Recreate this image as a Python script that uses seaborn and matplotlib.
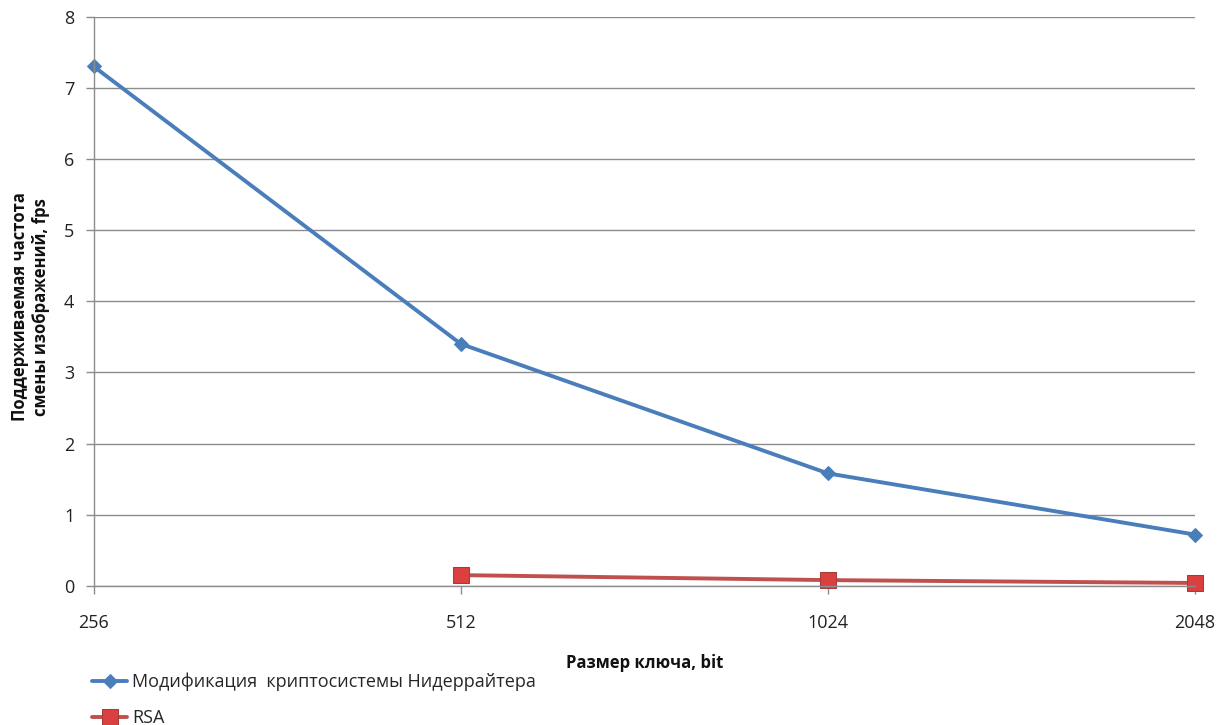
import numpy as np
import pandas as pd
import matplotlib
matplotlib.use("Agg")
import matplotlib.pyplot as plt
import seaborn as sns

key_sizes = ["256", "512", "1024", "2048"]
niederreiter_fps = [7.3, 3.4, 1.58, 0.72]
rsa_fps = [np.nan, 0.15, 0.08, 0.04]
series_names = ["Модификация  криптосистемы Нидеррайтера", "RSA"]

sns.set_theme(style="white")
plt.rcParams["font.family"] = ["Open Sans", "DejaVu Sans"]

df = pd.DataFrame({
    "key": key_sizes * 2,
    "pos": list(range(len(key_sizes))) * 2,
    "fps": niederreiter_fps + rsa_fps,
    "series": [series_names[0]] * 4 + [series_names[1]] * 4,
})

fig = plt.figure(figsize=(12.17, 7.25), dpi=100)
ax = fig.add_axes([0.077, 0.192, 0.905, 0.785])

blue = "#4a7ebb"
red = "#c0504d"

sns.lineplot(data=df[df.series == series_names[0]], x="pos", y="fps", ax=ax,
             color=blue, lw=2.8, marker="D", markersize=7,
             markerfacecolor=blue, markeredgecolor=blue, label=series_names[0],
             clip_on=False)
sns.lineplot(data=df[df.series == series_names[1]].dropna(), x="pos", y="fps", ax=ax,
             color=red, lw=2.8, marker="s", markersize=11,
             markerfacecolor="#d9403f", markeredgecolor="#a83a38", label=series_names[1],
             clip_on=False)

ax.set_xlim(0, 3)
ax.set_ylim(0, 8)
ax.set_yticks(range(0, 9))
ax.set_xticks(range(len(key_sizes)))
ax.set_xticklabels(key_sizes)
ax.yaxis.grid(True, color="#8c8c8c", lw=1)
ax.set_axisbelow(True)
for s in ["top", "right"]:
    ax.spines[s].set_visible(False)
for s in ["left", "bottom"]:
    ax.spines[s].set_color("#8c8c8c")
    ax.spines[s].set_linewidth(1)
ax.tick_params(axis="both", which="both", colors="#8c8c8c", labelcolor="#222222",
               labelsize=13, length=6, width=1, direction="out", left=True, bottom=True)
ax.tick_params(axis="y", pad=8)
ax.tick_params(axis="x", pad=14)

ax.set_xlabel("Размер ключа, bit", fontsize=12, fontweight="bold", color="#111111", labelpad=16)
ax.set_ylabel("Поддерживаемая частота\nсмены изображений, fps", fontsize=12,
              fontweight="bold", color="#111111")
ax.yaxis.set_label_coords(-0.040, 0.49)

ax.legend(loc="upper left", bbox_to_anchor=(0.07, 0.082), bbox_transform=fig.transFigure,
          frameon=False, fontsize=13, handlelength=1.9, handletextpad=0.3,
          labelspacing=1.0, borderaxespad=0)

fig.savefig("out.png", dpi=100, facecolor="white")
